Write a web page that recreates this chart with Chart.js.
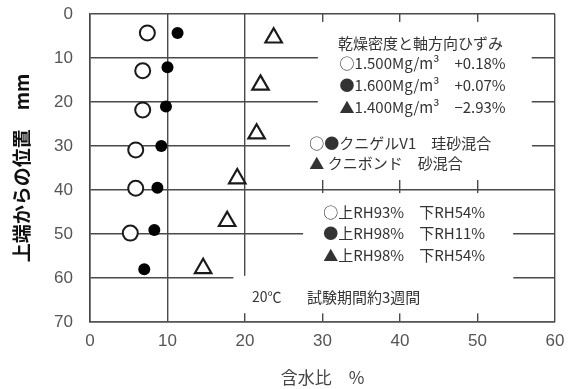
<!DOCTYPE html>
<html>
<head>
<meta charset="utf-8">
<script src="https://cdn.jsdelivr.net/npm/chart.js@4"></script>
<style>
  html, body { margin: 0; padding: 0; background: #fff; }
  canvas { display: block; }
</style>
</head>
<body>
<canvas id="chart" width="574" height="389"></canvas>
<script>
// 含水比 (x) と 上端からの位置 (y)
const moistOpen = [7.4, 6.8, 6.8, 5.9, 5.9, 5.2];          // ○ 1.500Mg/m3
const depthOpen = [4.3, 12.9, 21.8, 30.9, 39.6, 49.8];
const moistFilled = [11.3, 10.0, 9.8, 9.2, 8.7, 8.3, 7.0]; // ● 1.600Mg/m3
const depthFilled = [4.3, 12.1, 21.0, 30.0, 39.5, 49.1, 58.0];
const moistTri = [23.7, 22.0, 21.5, 19.0, 17.7, 14.6];     // △ 1.400Mg/m3
const depthTri = [5.4, 16.1, 27.2, 37.4, 47.1, 57.8];

const xTicks = [0, 10, 20, 30, 40, 50, 60];
const yTicks = [0, 10, 20, 30, 40, 50, 60, 70];

// 図中の説明文
const noteLines = [
  '乾燥密度と軸方向ひずみ',
  '○1.500Mg/m³　+0.18%',
  '●1.600Mg/m³　+0.07%',
  '▲1.400Mg/m³　−2.93%',
  '○●クニゲルV1　珪砂混合',
  '▲ クニボンド　砂混合',
  '○上RH93%　下RH54%',
  '●上RH98%　下RH11%',
  '▲上RH98%　下RH54%',
  '20℃',
  '試験期間約3週間'
];
// 説明文の位置 (データ座標: x, y)
const notePos = [
  [32.0, 6.6], [32.2, 11.1], [32.2, 16.1], [32.2, 21.1],
  [28.3, 29.3], [28.3, 33.9],
  [30.1, 45.0], [30.1, 49.8], [30.1, 54.8],
  [20.9, 64.3], [28.0, 64.3]
];
// 文字の下の白抜き (x1, x2, y1, y2)
const blankBoxes = [
  [29.4, 57.0, 1.8, 37.7],
  [25.8, 57.0, 25.2, 37.7],
  [27.5, 54.6, 40.7, 68.0],
  [18.5, 54.6, 59.5, 68.0]
];

function pts(xs, ys) {
  return xs.map((v, i) => ({ x: v, y: ys[i] }));
}

const notesPlugin = {
  id: 'notes',
  beforeDatasetsDraw(chart) {
    const ctx = chart.ctx;
    const sx = chart.scales.x, sy = chart.scales.y;
    ctx.save();
    ctx.fillStyle = '#fff';
    blankBoxes.forEach(b => {
      const x1 = sx.getPixelForValue(b[0]), x2 = sx.getPixelForValue(b[1]);
      const y1 = sy.getPixelForValue(b[2]), y2 = sy.getPixelForValue(b[3]);
      ctx.fillRect(x1, y1, x2 - x1, y2 - y1);
    });
    ctx.fillStyle = '#333';
    ctx.textAlign = 'left';
    ctx.textBaseline = 'middle';
    noteLines.forEach((t, i) => {
      ctx.font = (i === 9 ? '14px' : '15px') + ' "Noto Sans CJK JP"';
      ctx.fillText(t, sx.getPixelForValue(notePos[i][0]), sy.getPixelForValue(notePos[i][1]));
    });
    ctx.restore();
  }
};

new Chart(document.getElementById('chart'), {
  type: 'scatter',
  data: {
    datasets: [
      {
        data: pts(moistOpen, depthOpen),
        pointStyle: 'circle', pointRadius: 7.5, borderWidth: 2,
        borderColor: '#1a1a1a', backgroundColor: '#fff'
      },
      {
        data: pts(moistFilled, depthFilled),
        pointStyle: 'circle', pointRadius: 6, borderWidth: 0,
        borderColor: '#000', backgroundColor: '#000'
      },
      {
        data: pts(moistTri, depthTri),
        pointStyle: 'triangle', pointRadius: 9.5, borderWidth: 2.2,
        borderColor: '#1a1a1a', backgroundColor: '#fff'
      }
    ]
  },
  options: {
    responsive: false,
    animation: false,
    devicePixelRatio: 1,
    layout: { padding: { top: 14, right: 19, left: 0, bottom: 0 } },
    plugins: { legend: { display: false }, tooltip: { enabled: false } },
    scales: {
      x: {
        type: 'linear', min: 0, max: 60,
        afterBuildTicks(s) { s.ticks = xTicks.map(v => ({ value: v })); },
        afterFit(s) { s.height = 67; s.paddingLeft = 0; s.paddingRight = 0; },
        grid: { color: '#4a4a4a', lineWidth: 1.4, drawTicks: false },
        border: { color: '#555', width: 1.4 },
        ticks: { color: '#555', padding: 9, font: { family: 'Liberation Sans', size: 17 } },
        title: {
          display: true, text: '含水比　%', color: '#444',
          font: { family: 'Noto Sans CJK JP', size: 17 }, padding: { top: 0, bottom: 1 }
        }
      },
      y: {
        type: 'linear', min: 0, max: 70, reverse: true,
        afterBuildTicks(s) { s.ticks = yTicks.map(v => ({ value: v })); },
        afterFit(s) { s.width = 90; s.paddingTop = 0; s.paddingBottom = 0; },
        grid: { color: '#4a4a4a', lineWidth: 1.4, drawTicks: false },
        border: { color: '#444', width: 1.5 },
        ticks: { color: '#555', padding: 17, font: { family: 'Liberation Sans', size: 17 } },
        title: {
          display: true, text: '上端からの位置　mm', color: '#111',
          font: { family: 'Noto Sans CJK JP', size: 19, weight: 'bold' }, padding: { top: 10, bottom: 0 }
        }
      }
    }
  },
  plugins: [notesPlugin]
});
</script>
</body>
</html>
